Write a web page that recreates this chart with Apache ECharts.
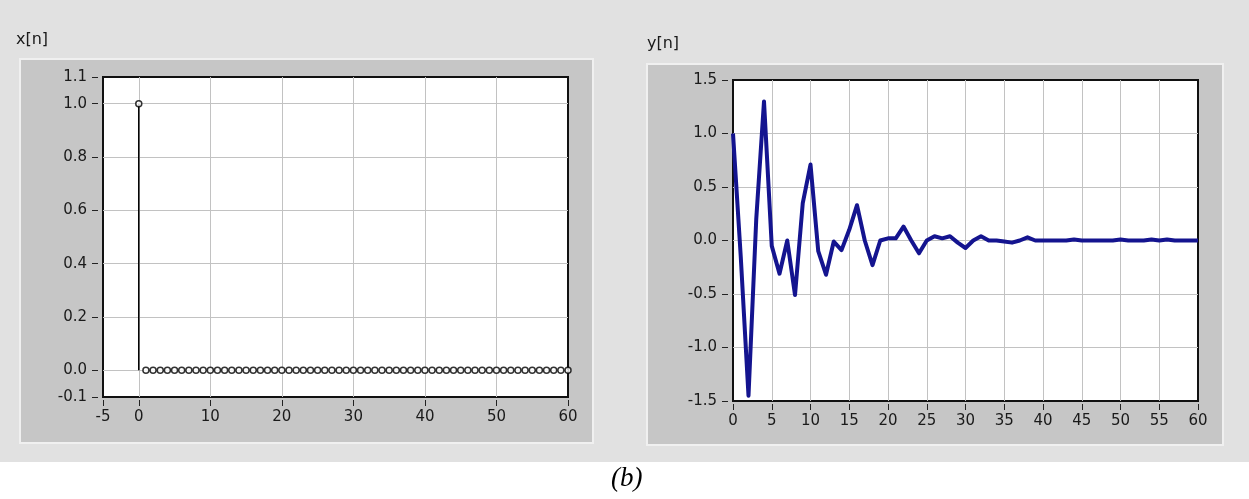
<!DOCTYPE html>
<html>
<head>
<meta charset="utf-8">
<style>
  html, body { margin: 0; padding: 0; background: #fff; }
  #chart-container { width: 1249px; height: 499px; }
</style>
<script src="https://cdn.jsdelivr.net/npm/echarts@6/dist/echarts.min.js"></script>
</head>
<body>
<div id="chart-container"></div>
<script>
var dom = document.getElementById("chart-container");
var myChart = echarts.init(dom, null, { renderer: "canvas" });

// sample index n (0..60)
const nValues = [
  0, 1, 2, 3, 4, 5, 6, 7, 8, 9, 10, 11, 12, 13, 14, 15, 16, 17, 18, 19, 20,
  21, 22, 23, 24, 25, 26, 27, 28, 29, 30, 31, 32, 33, 34, 35, 36, 37, 38, 39, 40,
  41, 42, 43, 44, 45, 46, 47, 48, 49, 50, 51, 52, 53, 54, 55, 56, 57, 58, 59, 60
];
// input: unit impulse
const xValues = [
  1, 0, 0, 0, 0, 0, 0, 0, 0, 0, 0, 0, 0, 0, 0, 0, 0, 0, 0, 0, 0,
  0, 0, 0, 0, 0, 0, 0, 0, 0, 0, 0, 0, 0, 0, 0, 0, 0, 0, 0, 0,
  0, 0, 0, 0, 0, 0, 0, 0, 0, 0, 0, 0, 0, 0, 0, 0, 0, 0, 0, 0
];
// output
const yValues = [
  1.0, -0.15, -1.45, 0.2, 1.3, -0.05, -0.31, 0.0, -0.51, 0.35, 0.71,
  -0.1, -0.32, -0.01, -0.09, 0.1, 0.33, 0.0, -0.23, 0.0, 0.02,
  0.02, 0.13, 0.0, -0.12, 0.0, 0.04, 0.02, 0.04, -0.02, -0.07,
  0.0, 0.04, 0.0, 0.0, -0.01, -0.02, 0.0, 0.03, 0.0, 0.0,
  0.0, 0.0, 0.0, 0.01, 0.0, 0.0, 0.0, 0.0, 0.0, 0.01,
  0.0, 0.0, 0.0, 0.01, 0.0, 0.01, 0.0, 0.0, 0.0, 0.0
];

const xnXTicks = [-5, 0, 10, 20, 30, 40, 50, 60];
const xnYTicks = [-0.1, 0, 0.2, 0.4, 0.6, 0.8, 1.0, 1.1];

const fontFamily = "DejaVu Sans, Verdana, sans-serif";
const labelFont = { color: "#1a1a1a", fontSize: 15, fontFamily: fontFamily };

// stems: vertical segment from 0 to value for each sample
const stemData = [];
nValues.forEach((n, i) => {
  stemData.push([n, 0], [n, xValues[i]], null);
});

const panelStyle = { fill: "#c6c6c6", stroke: "#f0f0f0", lineWidth: 2 };
const tickStyle = { show: true, inside: false, length: 6, lineStyle: { color: "#222", width: 1 } };
const gridLine = { show: true, showMinLine: false, showMaxLine: false, lineStyle: { color: "#c2c2c2", width: 1 } };

option = {
  animation: false,
  backgroundColor: "#ffffff",
  graphic: [
    { type: "rect", silent: true, z: -10, shape: { x: 0, y: 0, width: 1249, height: 462 }, style: { fill: "#e1e1e1" } },
    { type: "rect", silent: true, z: -9, shape: { x: 20, y: 59, width: 573, height: 384 }, style: panelStyle },
    { type: "rect", silent: true, z: -9, shape: { x: 647, y: 64, width: 576, height: 381 }, style: panelStyle },
    { type: "text", left: 16, top: 32, style: { text: "x[n]", fill: "#1a1a1a", font: "16px " + fontFamily } },
    { type: "text", left: 647, top: 36, style: { text: "y[n]", fill: "#1a1a1a", font: "16px " + fontFamily } },
    { type: "text", left: 611, top: 465, style: { text: "(b)", fill: "#000", font: "italic 27px Liberation Serif, Times New Roman, serif" } }
  ],
  grid: [
    { left: 103, top: 77, width: 465, height: 320, show: true, backgroundColor: "#fff", borderColor: "#111", borderWidth: 2 },
    { left: 733, top: 80, width: 465, height: 321, show: true, backgroundColor: "#fff", borderColor: "#111", borderWidth: 2 }
  ],
  xAxis: [
    {
      gridIndex: 0, type: "value", min: -5, max: 60, offset: 3,
      axisLine: { show: false, onZero: false },
      axisTick: Object.assign({ customValues: xnXTicks }, tickStyle),
      axisLabel: Object.assign({ margin: 10, customValues: xnXTicks }, labelFont),
      splitLine: gridLine
    },
    {
      gridIndex: 1, type: "value", min: 0, max: 60, interval: 5, offset: 3,
      axisLine: { show: false, onZero: false },
      axisTick: tickStyle,
      axisLabel: Object.assign({ margin: 10 }, labelFont),
      splitLine: gridLine
    }
  ],
  yAxis: [
    {
      gridIndex: 0, type: "value", min: -0.1, max: 1.1, offset: 5,
      axisLine: { show: false, onZero: false },
      axisTick: Object.assign({ customValues: xnYTicks }, tickStyle),
      axisLabel: Object.assign({ margin: 11, customValues: xnYTicks, formatter: (v) => v.toFixed(1) }, labelFont),
      splitLine: gridLine
    },
    {
      gridIndex: 1, type: "value", min: -1.5, max: 1.5, interval: 0.5, offset: 5,
      axisLine: { show: false, onZero: false },
      axisTick: tickStyle,
      axisLabel: Object.assign({ margin: 11, formatter: (v) => v.toFixed(1) }, labelFont),
      splitLine: gridLine
    }
  ],
  series: [
    {
      name: "x stems", type: "line", xAxisIndex: 0, yAxisIndex: 0,
      data: stemData, connectNulls: false, showSymbol: false, symbol: "none",
      lineStyle: { color: "#000", width: 1.5 }, z: 3
    },
    {
      name: "x[n]", type: "scatter", xAxisIndex: 0, yAxisIndex: 0,
      data: nValues.map((n, i) => [n, xValues[i]]),
      symbol: "circle", symbolSize: 6,
      itemStyle: { color: "#fff", borderColor: "#000", borderWidth: 1.5 }, z: 4
    },
    {
      name: "y[n]", type: "line", xAxisIndex: 1, yAxisIndex: 1,
      data: nValues.map((n, i) => [n, yValues[i]]),
      symbol: "none", lineStyle: { color: "#14148f", width: 4, join: "round" }
    }
  ]
};

myChart.setOption(option);
window.addEventListener("resize", myChart.resize);
</script>
</body>
</html>
